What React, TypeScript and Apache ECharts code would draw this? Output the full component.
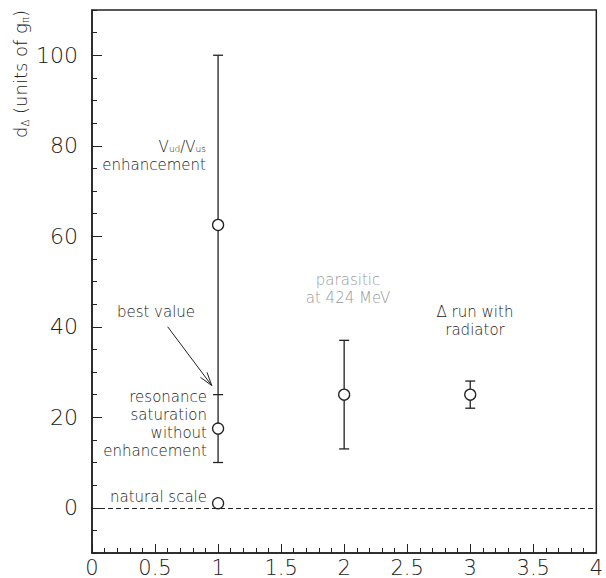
import React, { useEffect, useRef } from "react";
import * as echarts from "echarts";

const pointX = [1, 1, 1, 2, 3];
const pointY = [62.5, 17.5, 1, 25, 25];
const errX = [1, 2, 3];
const errLow = [10, 13, 22];
const errHigh = [100, 37, 28];
const bestX = [1];
const bestY = [25];
const arrowFrom = [0.6, 40];
const arrowTo = [0.95, 27];
const yMajorTicks = [0, 20, 40, 60, 80, 100];

export default function App() {
  const ref = useRef<HTMLDivElement>(null);
  useEffect(() => {
    const chart = echarts.init(ref.current!, null, { renderer: "svg" });
    const ink = "#222";
    const font = "DejaVu Sans";
    const fw = 200;
    const lw = 1.3;
    const txt = (o: any) => ({
      type: "text",
      style: { fontFamily: font, fontWeight: fw, fontSize: 15, fill: ink, ...o.style },
      x: o.x,
      y: o.y,
      rotation: o.rotation || 0,
    });
    const option: any = {
      animation: false,
      backgroundColor: "#fff",
      grid: { left: 92, right: 4, top: 10, bottom: 24, show: true, borderColor: ink, borderWidth: 1.5, backgroundColor: "transparent" },
      xAxis: {
        type: "value",
        min: 0,
        max: 4,
        interval: 0.5,
        axisLine: { onZero: false, lineStyle: { color: ink, width: 1.5 } },
        axisTick: { inside: true, length: 9, lineStyle: { color: ink, width: 1 } },
        minorTick: { show: true, splitNumber: 5, length: 5, lineStyle: { color: ink, width: 1 } },
        splitLine: { show: false },
        minorSplitLine: { show: false },
        axisLabel: { fontFamily: font, fontWeight: fw, fontSize: 21, color: ink, margin: 4 },
      },
      yAxis: [
        {
          type: "value",
          min: -10,
          max: 110,
          interval: 5,
          axisLine: { show: true, onZero: false, lineStyle: { color: ink, width: 1.5 } },
          axisTick: { inside: true, length: 5, lineStyle: { color: ink, width: 1 } },
          axisLabel: { show: false },
          splitLine: { show: false },
        },
        {
          type: "value",
          min: -10,
          max: 110,
          interval: 5,
          position: "left",
          axisLine: { show: false, onZero: false },
          axisTick: { show: true, inside: true, length: 10, customValues: yMajorTicks, lineStyle: { color: ink, width: 1 } },
          axisLabel: { show: true, customValues: yMajorTicks, fontFamily: font, fontWeight: fw, fontSize: 22, color: ink, margin: 14 },
          splitLine: { show: false },
        },
      ],
      series: [
        {
          type: "custom",
          yAxisIndex: 0,
          data: errX.map((x, i) => [x, errLow[i], errHigh[i]]),
          encode: { x: 0, y: [1, 2] },
          renderItem: (params: any, api: any) => {
            const x = api.value(0);
            const pLo = api.coord([x, api.value(1)]);
            const pHi = api.coord([x, api.value(2)]);
            const hw = 5;
            const st = { stroke: ink, lineWidth: lw };
            return {
              type: "group",
              children: [
                { type: "line", shape: { x1: pLo[0], y1: pLo[1], x2: pHi[0], y2: pHi[1] }, style: st },
                { type: "line", shape: { x1: pLo[0] - hw, y1: pLo[1], x2: pLo[0] + hw, y2: pLo[1] }, style: st },
                { type: "line", shape: { x1: pHi[0] - hw, y1: pHi[1], x2: pHi[0] + hw, y2: pHi[1] }, style: st },
              ],
            };
          },
        },
        {
          type: "custom",
          yAxisIndex: 0,
          data: bestX.map((x, i) => [x, bestY[i]]),
          renderItem: (params: any, api: any) => {
            const p = api.coord([api.value(0), api.value(1)]);
            return { type: "line", shape: { x1: p[0] - 5, y1: p[1], x2: p[0] + 5, y2: p[1] }, style: { stroke: ink, lineWidth: lw } };
          },
        },
        {
          type: "custom",
          yAxisIndex: 0,
          data: [[arrowFrom[0], arrowFrom[1], arrowTo[0], arrowTo[1]]],
          encode: { x: [0, 2], y: [1, 3] },
          renderItem: (params: any, api: any) => {
            const a = api.coord([api.value(0), api.value(1)]);
            const b = api.coord([api.value(2), api.value(3)]);
            const ang = Math.atan2(b[1] - a[1], b[0] - a[0]);
            const L = 14;
            const sp = 0.3;
            const h1 = [b[0] - L * Math.cos(ang - sp), b[1] - L * Math.sin(ang - sp)];
            const h2 = [b[0] - L * Math.cos(ang + sp), b[1] - L * Math.sin(ang + sp)];
            const st = { stroke: ink, lineWidth: 1, fill: "none" };
            return {
              type: "group",
              children: [
                { type: "line", shape: { x1: a[0], y1: a[1], x2: b[0], y2: b[1] }, style: st },
                { type: "polyline", shape: { points: [h1, b, h2] }, style: st },
              ],
            };
          },
        },
        {
          type: "scatter",
          yAxisIndex: 0,
          data: pointX.map((x, i) => [x, pointY[i]]),
          symbol: "circle",
          symbolSize: 11,
          z: 5,
          itemStyle: { color: "#fff", borderColor: ink, borderWidth: lw, opacity: 1 },
          markLine: {
            silent: true,
            symbol: ["none", "none"],
            label: { show: false },
            lineStyle: { color: ink, width: 1, type: [5, 3] },
            data: [{ yAxis: 0 }],
          },
        },
      ],
      graphic: [
        {
          type: "text",
          x: 20,
          y: 74,
          rotation: Math.PI / 2,
          style: {
            text: "d{s|Δ} (units of g{s|π})",
            fontFamily: font,
            fontWeight: fw,
            fontSize: 18,
            lineHeight: 20,
            fill: ink,
            align: "center",
            verticalAlign: "middle",
            rich: { s: { fontSize: 10, lineHeight: 10, fontFamily: font, fontWeight: fw, verticalAlign: "bottom" } },
          },
        },
        {
          type: "text",
          x: 206,
          y: 147,
          style: {
            text: "V{s|ud}/V{s|us}",
            fontFamily: font,
            fontWeight: fw,
            fontSize: 15,
            lineHeight: 13,
            fill: ink,
            align: "right",
            verticalAlign: "middle",
            rich: { s: { fontSize: 9, lineHeight: 8, fontFamily: font, fontWeight: fw, verticalAlign: "bottom" } },
          },
        },
        txt({ x: 206, y: 165, style: { text: "enhancement", align: "right", verticalAlign: "middle", lineHeight: 13 } }),
        txt({ x: 156, y: 312, style: { text: "best value", align: "center", verticalAlign: "middle" } }),
        txt({ x: 207, y: 424, style: { text: "resonance\nsaturation\nwithout\nenhancement", align: "right", verticalAlign: "middle", lineHeight: 18 } }),
        txt({ x: 207, y: 497, style: { text: "natural scale", align: "right", verticalAlign: "middle" } }),
        txt({ x: 348, y: 289, style: { text: "parasitic\nat 424 MeV", align: "center", verticalAlign: "middle", lineHeight: 18, fill: "#999" } }),
        txt({ x: 475, y: 321, style: { text: "Δ run with\nradiator", align: "center", verticalAlign: "middle", lineHeight: 18 } }),
      ],
    };
    chart.setOption(option);
    return () => chart.dispose();
  }, []);
  return <div ref={ref} style={{ position: "fixed", left: 0, top: 0, width: 606, height: 578 }} />;
}
